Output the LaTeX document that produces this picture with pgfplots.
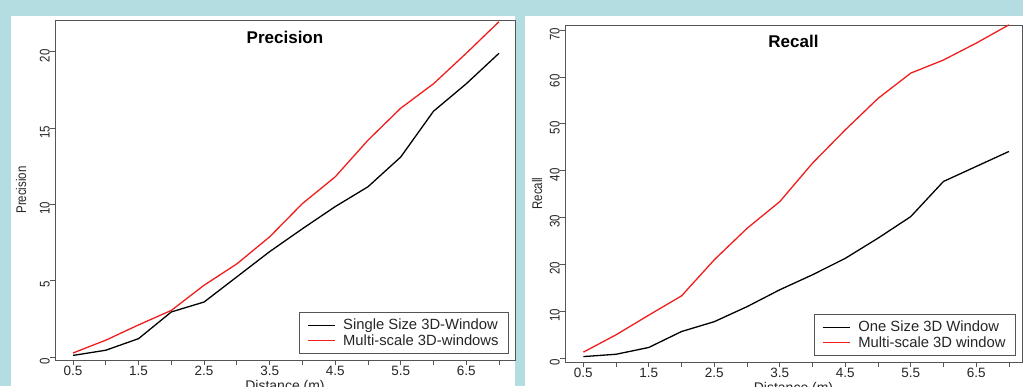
\documentclass[border=0pt]{standalone}
\usepackage{fontspec}
\setmainfont{Liberation Sans}
\newfontfamily\rotfont[FakeStretch=0.82]{Liberation Sans}
\usepackage{pgfplots}
\usepackage{pgfplotstable}
\pgfplotsset{compat=1.18}
\definecolor{bgblue}{RGB}{180,221,226}
\definecolor{axgray}{RGB}{85,85,85}
\definecolor{rred}{RGB}{240,30,30}

\pgfplotstableread{
x   single multi
0.5 0.10  0.26
1.0 0.44  1.10
1.5 1.20  2.10
2.0 2.95  3.05
2.5 3.60  4.70
3.0 5.25  6.10
3.5 6.90  7.87
4.0 8.40  10.05
4.5 9.85  11.80
5.0 11.15 14.20
5.5 13.10 16.30
6.0 16.10 17.90
6.5 17.90 19.90
7.0 19.90 21.97
}\precisiondata

\pgfplotstableread{
x   single multi
0.5 0.35  1.3
1.0 0.85  5.0
1.5 2.30  9.2
2.0 5.70  13.3
2.5 7.80  21.0
3.0 11.00 27.7
3.5 14.60 33.4
4.0 17.80 41.6
4.5 21.30 48.7
5.0 25.60 55.4
5.5 30.20 60.8
6.0 37.70 63.6
6.5 40.90 67.2
7.0 44.10 71.1
}\recalldata

\pgfplotsset{rstyle/.style={
  scale only axis, anchor=south west,
  axis line style={axgray, line width=0.8pt},
  tick style={axgray, line width=0.8pt},
  tick align=outside, major tick length=5pt,
  xtick pos=lower, ytick pos=left,
  xtick={0.5,1,1.5,2,2.5,3,3.5,4,4.5,5,5.5,6,6.5,7},
  xticklabels={0.5,,1.5,,2.5,,3.5,,4.5,,5.5,,6.5,},
  /pgf/number format/assume math mode=true,
  ticklabel style={font=\fontsize{13.5}{14}\selectfont, text=black!85},
  xticklabel style={inner sep=0pt, yshift=-1pt},
  yticklabel style={rotate=90, anchor=south, inner sep=0pt, xshift=-4pt, font=\rotfont\fontsize{14}{14}\selectfont},
  ylabel style={font=\rotfont\fontsize{14}{14}\selectfont, text=black!85},
  xlabel style={font=\fontsize{14}{14}\selectfont, text=black!85},
  legend cell align=left,
  legend image code/.code={\draw[#1, line width=1pt] (0pt,0pt) -- (27pt,0pt); \path (33pt,0pt);},
  legend style={at={(rel axis cs:1,0)}, anchor=south east, xshift=-6pt, yshift=6pt,
    draw=axgray, line width=0.8pt, font=\fontsize{14.8}{16}\selectfont, text=black!85,
    inner xsep=8pt, inner ysep=5pt, row sep=-1pt},
  every axis plot/.append style={line width=1.3pt},
}}

\begin{document}
\begin{tikzpicture}[x=1pt,y=1pt]
\useasboundingbox (0,0) rectangle (1023,386);
\fill[bgblue] (0,0) rectangle (1023,386);
\fill[white] (11,0) rectangle (515,370);
\fill[white] (525,0) rectangle (1023,370);

\begin{axis}[rstyle, at={(55pt,26pt)}, width=460pt, height=340pt,
  xmin=0.225, xmax=7.244, ymin=-0.2, ymax=22.08,
  ytick={0,5,10,15,20},
  ylabel={Precision}, ylabel style={at={(rel axis cs:0,0.5)}, anchor=center, rotate=0, yshift=34pt},
  xlabel={Distance (m)}, xlabel style={at={(rel axis cs:0.5,0)}, anchor=north, yshift=-20pt, inner sep=0pt},
  title={\bfseries Precision}, title style={at={(rel axis cs:0.5,1)}, anchor=center, yshift=-23pt, font=\fontsize{17}{17}\selectfont\bfseries},
]
\addplot[black] table[x=x, y=single] {\precisiondata};
\addlegendentry{Single Size 3D-Window}
\addplot[rred] table[x=x, y=multi] {\precisiondata};
\addlegendentry{Multi-scale 3D-windows}
\end{axis}

\begin{axis}[rstyle, at={(565pt,24pt)}, width=457pt, height=337pt,
  xmin=0.22, xmax=7.2, ymin=-0.8, ymax=71.07,
  ytick={0,10,20,30,40,50,60,70},
  ylabel={Recall}, ylabel style={at={(rel axis cs:0,0.5)}, anchor=center, yshift=28pt},
  xlabel={Distance (m)}, xlabel style={at={(rel axis cs:0.5,0)}, anchor=north, yshift=-20pt, inner sep=0pt},
  title={\bfseries Recall}, title style={at={(rel axis cs:0.5,1)}, anchor=center, yshift=-22pt, font=\fontsize{17}{17}\selectfont\bfseries},
]
\addplot[black] table[x=x, y=single] {\recalldata};
\addlegendentry{One Size 3D Window}
\addplot[rred] table[x=x, y=multi] {\recalldata};
\addlegendentry{Multi-scale 3D window}
\end{axis}
\end{tikzpicture}
\end{document}
